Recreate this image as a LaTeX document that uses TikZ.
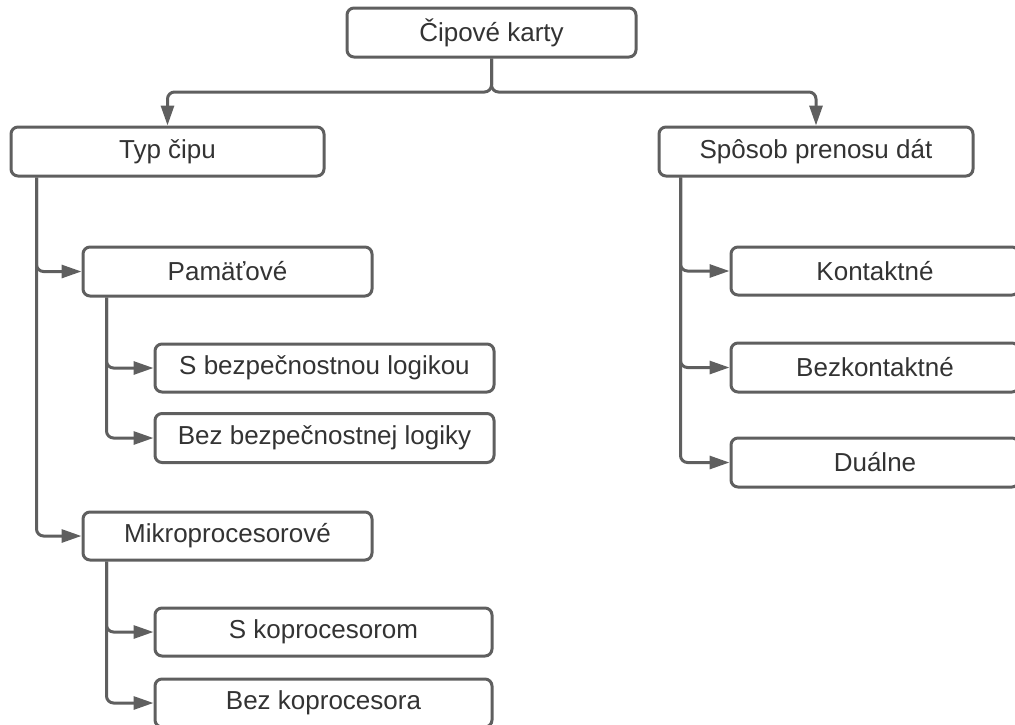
\documentclass[tikz,border=0pt]{standalone}
\usepackage{fontspec}
\setmainfont{Liberation Sans}
\usetikzlibrary{arrows.meta}
\definecolor{linegray}{HTML}{5F5F5F}
\definecolor{textgray}{HTML}{333333}
\tikzset{
  box/.style={draw=linegray, line width=3pt, rounded corners=7pt, fill=white,
    minimum height=49pt, inner sep=0pt, text=textgray,
    font=\fontsize{26}{31}\selectfont},
  conn/.style={draw=linegray, line width=3pt, rounded corners=7pt,
    -{Triangle[length=20pt,width=13pt]}}
}
\begin{document}
\begin{tikzpicture}[x=1pt,y=-1pt]
\useasboundingbox (0,0) rectangle (1015,724);
\clip (0,0) rectangle (1015,724);
% nodes
\node[box, minimum width=289pt] (top) at (491.5,32.5) {Čipové karty};
\node[box, minimum width=313pt] (typ) at (167.5,151.5) {Typ čipu};
\node[box, minimum width=314pt] (spo) at (816,151.5) {Spôsob prenosu dát};
\node[box, minimum width=289pt] (pam) at (227.5,271.5) {Pamäťové};
\node[box, minimum width=339pt, minimum height=48pt] (sbl) at (324.5,368) {S bezpečnostnou logikou};
\node[box, minimum width=339pt] (bbl) at (324.5,438) {Bez bezpečnostnej logiky};
\node[box, minimum width=289pt, minimum height=48pt] (mik) at (227.5,536) {Mikroprocesorové};
\node[box, minimum width=337pt, minimum height=48pt] (sk) at (323.5,632) {S koprocesorom};
\node[box, minimum width=337pt, minimum height=48pt] (bk) at (323.5,703) {Bez koprocesora};
\node[box, minimum width=288pt, minimum height=48pt] (kon) at (875,271) {Kontaktné};
\node[box, minimum width=288pt] (bez) at (875,367.5) {Bezkontaktné};
\node[box, minimum width=288pt] (dua) at (875,462.5) {Duálne};
% connectors
\coordinate (split) at (491.5,92);
\draw[conn] (top.south) -- (split) -| (typ.north);
\draw[conn] (top.south) -- (split) -| (spo.north);
\draw[conn] ([xshift=27pt]typ.south west) |- (pam.west);
\draw[conn] ([xshift=27pt]typ.south west) |- (mik.west);
\draw[conn] ([xshift=25pt]pam.south west) |- (sbl.west);
\draw[conn] ([xshift=25pt]pam.south west) |- (bbl.west);
\draw[conn] ([xshift=25pt]mik.south west) |- (sk.west);
\draw[conn] ([xshift=25pt]mik.south west) |- (bk.west);
\draw[conn] ([xshift=23pt]spo.south west) |- (kon.west);
\draw[conn] ([xshift=23pt]spo.south west) |- (bez.west);
\draw[conn] ([xshift=23pt]spo.south west) |- (dua.west);
\end{tikzpicture}
\end{document}
